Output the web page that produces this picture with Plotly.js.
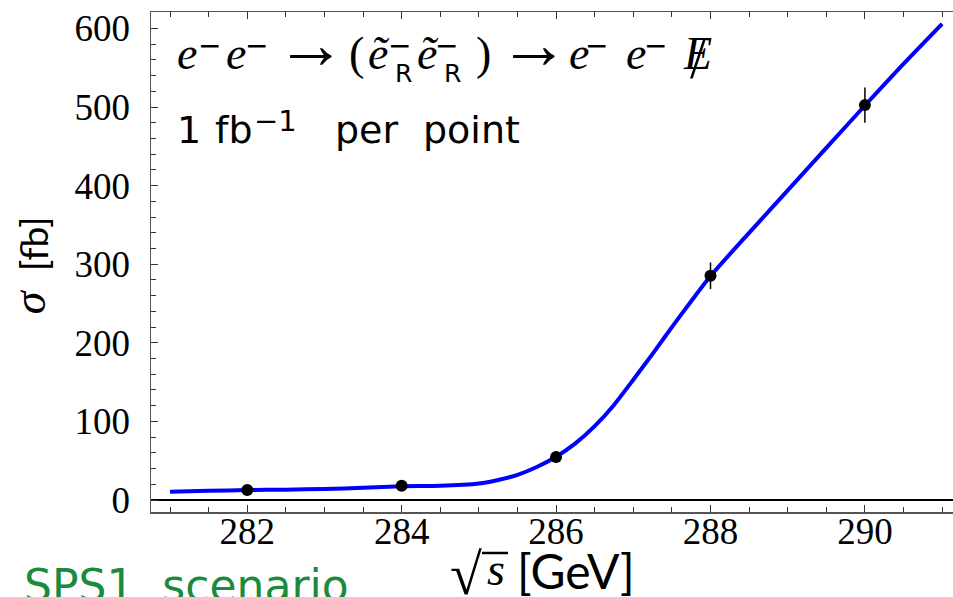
<!DOCTYPE html>
<html>
<head>
<meta charset="utf-8">
<script src="https://cdn.plot.ly/plotly-3.0.1.min.js"></script>
<style>
  html, body { margin: 0; padding: 0; background: #fff; overflow: hidden; }
  #chart { width: 953px; height: 597px; }
</style>
</head>
<body>
<div id="chart"></div>
<script>
// Measured cross sections (1 fb^-1 per point)
const pointEnergy = [282, 284, 286, 288, 290];
const pointSigma  = [12.7, 18.2, 54.7, 285.4, 502.5];
const pointError  = [3.6, 4.3, 7.4, 16.9, 22.4];

// Theoretical threshold curve
const curveEnergy = [281.0, 281.5, 282.0, 282.5, 283.0, 283.5, 284.0, 284.5, 285.0,
                     285.25, 285.5, 285.75, 286.0, 286.25, 286.5, 286.75, 287.0,
                     287.25, 287.5, 287.75, 288.0, 288.5, 289.0, 289.5, 290.0, 290.5, 291.0];
const curveSigma  = [10.5, 11.8, 12.6, 13.2, 14.0, 15.6, 17.5, 18.0, 21.0,
                     25.5, 32, 42, 55, 72, 94, 121, 153,
                     186, 220, 253, 285, 340, 394, 448, 502, 555, 606];

const xTicks = [282, 284, 286, 288, 290];
const yTicks = [0, 100, 200, 300, 400, 500, 600];

const W = 953, H = 597;
const M = { l: 151, r: 0, t: 12, b: 85 };
const plotW = W - M.l - M.r, plotH = H - M.t - M.b;
// pixel -> paper coordinates for text placement
const px = x => (x - M.l) / plotW;
const py = y => (H - M.b - y) / plotH;

const SERIF = 'Liberation Serif';
const SANS = 'DejaVu Sans';
const LATO = 'Lato';

// one piece of text placed at a pixel position
function tok(text, x, y, family, size, opts) {
  opts = opts || {};
  return {
    xref: 'paper', yref: 'paper', x: px(x), y: py(y),
    xanchor: opts.xanchor || 'center', yanchor: 'middle',
    showarrow: false, text: text, textangle: opts.angle || 0,
    font: { family: family, size: size, color: opts.color || '#000' }
  };
}

// formula: e- e- -> (~e_R- ~e_R-) -> e- e- E-slash
const big = 46, supSz = 28, subSz = 25;
const yMain = 53.6, ySup = 45.8, ySub = 73, yArrow = 45;
const formula = [
  tok('<i>e</i>', 186.5, yMain, SERIF, big),
  tok('−', 209.5, ySup, SANS, supSz),
  tok('<i>e</i>', 236, yMain, SERIF, big),
  tok('−', 256.5, ySup, SANS, supSz),
  tok('→', 311, yArrow, SERIF, 70),
  tok('(', 356.5, yMain, SERIF, big),
  tok('<i>ẽ</i>', 378.5, yMain, SERIF, big),
  tok('−', 399, ySup, SANS, supSz),
  tok('R', 403, ySub, SANS, subSz),
  tok('<i>ẽ</i>', 427.5, yMain, SERIF, big),
  tok('−', 446, ySup, SANS, supSz),
  tok('R', 452, ySub, SANS, subSz),
  tok(')', 483.5, yMain, SERIF, big),
  tok('→', 534, yArrow, SERIF, 70),
  tok('<i>e</i>', 579, yMain, SERIF, big),
  tok('−', 596.5, ySup, SANS, supSz),
  tok('<i>e</i>', 636, yMain, SERIF, big),
  tok('−', 655.5, ySup, SANS, supSz),
  tok('<i>E</i>', 697.5, yMain, SERIF, big),
  tok('/', 698, 58.6, SERIF, 56)
];

// luminosity note
const lumi = [
  tok('1', 175, 129.8, SANS, 38, { xanchor: 'left' }),
  tok('fb', 213, 129.8, SANS, 38, { xanchor: 'left' }),
  tok('−1', 252, 121, SANS, 29, { xanchor: 'left' }),
  tok('per', 333, 129.8, SANS, 38, { xanchor: 'left' }),
  tok('point', 421, 129.8, SANS, 38, { xanchor: 'left' })
];

// axis titles and scenario label
const titles = [
  tok('<i>σ</i>', 29.3, 302, SERIF, 46, { angle: -90 }),
  tok('[fb]', 34, 244, LATO, 37, { angle: -90 }),
  tok('√', 466, 574, SERIF, 58),
  tok('<i>s</i>', 496, 569, SERIF, 46),
  tok('[GeV]', 515, 570, LATO, 48, { xanchor: 'left' }),
  tok('SPS1\u00A0\u00A0scenario', 22, 585, SANS, 44, { xanchor: 'left', color: '#1a8a3c' })
];

const traces = [
  {
    x: curveEnergy, y: curveSigma, type: 'scatter', mode: 'lines',
    line: { color: '#0000ff', width: 4, shape: 'spline', smoothing: 0.6 },
    hoverinfo: 'skip'
  },
  {
    x: pointEnergy, y: pointSigma, type: 'scatter', mode: 'markers',
    marker: { color: '#000', size: 12 },
    error_y: { type: 'data', array: pointError, visible: true, color: '#000', thickness: 1.5, width: 0 }
  }
];

const layout = {
  width: W, height: H,
  margin: M,
  font: { family: SERIF, color: '#000' },
  paper_bgcolor: '#fff', plot_bgcolor: '#fff',
  showlegend: false,
  xaxis: {
    range: [280.753, 291.141],
    tickvals: xTicks, ticktext: xTicks.map(String),
    ticks: 'inside', ticklen: 7, tickwidth: 1, tickcolor: '#333',
    minor: { ticks: 'inside', dtick: 0.5, tick0: 281, ticklen: 5, tickcolor: '#333' },
    showline: true, linecolor: '#555', linewidth: 1.5, mirror: 'ticks',
    showgrid: false, zeroline: false,
    tickfont: { family: SERIF, size: 37, color: '#000' },
    ticklabelstandoff: -14
  },
  yaxis: {
    range: [-15.27, 621],
    tickvals: yTicks, ticktext: yTicks.map(String),
    ticks: 'inside', ticklen: 7, tickwidth: 1, tickcolor: '#333',
    minor: { ticks: 'inside', dtick: 20, tick0: 0, ticklen: 5, tickcolor: '#333' },
    showline: true, linecolor: '#555', linewidth: 1.5,
    showgrid: false,
    zeroline: true, zerolinecolor: '#000', zerolinewidth: 1.5,
    tickfont: { family: SERIF, size: 37, color: '#000' },
    ticklabelstandoff: 12
  },
  shapes: [
    // vinculum over the s in the square root
    { type: 'line', xref: 'paper', yref: 'paper', x0: px(482), x1: px(508), y0: py(553), y1: py(553),
      line: { color: '#000', width: 2.5 } }
  ],
  annotations: formula.concat(lumi, titles)
};

Plotly.newPlot('chart', traces, layout, { staticPlot: true, displayModeBar: false });
</script>
</body>
</html>
